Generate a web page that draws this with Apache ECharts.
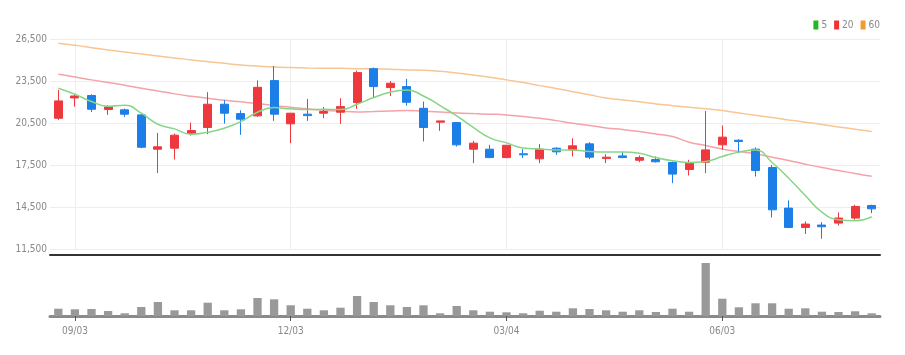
<!DOCTYPE html>
<html>
<head>
<meta charset="utf-8">
<style>
  html, body { margin: 0; padding: 0; background: #fff; }
  #chart-container { width: 905px; height: 355px; }
</style>
<script src="https://cdn.jsdelivr.net/npm/echarts@6/dist/echarts.min.js"></script>
</head>
<body>
<div id="chart-container"></div>
<script>
// weekly candles, labels MM/DD
var dates = ['08/27', '09/03', '09/10', '09/17', '09/24', '10/01', '10/08', '10/15', '10/22', '10/29',
    '11/05', '11/12', '11/19', '11/26', '12/03', '12/10', '12/17', '12/24', '12/31', '01/07',
    '01/14', '01/21', '01/28', '02/04', '02/11', '02/18', '02/25', '03/04', '03/11', '03/18',
    '03/25', '04/01', '04/08', '04/15', '04/22', '04/29', '05/06', '05/13', '05/20', '05/27',
    '06/03', '06/10', '06/17', '06/24', '07/01', '07/08', '07/15', '07/22', '07/29', '08/05'];
var labelDates = ['09/03', '12/03', '03/04', '06/03'];

var opens = [20840, 22290, 22460, 21460, 21440, 21080, 18630, 18700, 19750, 20180,
    21840, 21170, 21010, 23530, 20440, 21130, 21200, 21270, 21960, 24380,
    23030, 23100, 21550, 20560, 20530, 18630, 18630, 18030, 18300, 17940,
    18700, 18580, 19010, 17960, 18150, 17840, 17890, 17680, 17180, 17700,
    18940, 19270, 18630, 17320, 14420, 13040, 13210, 13350, 13710, 14610];
var closes = [22080, 22430, 21480, 21650, 21130, 18770, 18800, 19630, 19960, 21840,
    21200, 20770, 23050, 21130, 21200, 21030, 21320, 21670, 24100, 23100,
    23340, 21980, 20180, 20650, 18940, 19060, 18030, 18910, 18230, 18630,
    18440, 18870, 18060, 18060, 18030, 18030, 17730, 16850, 17630, 18580,
    19490, 19180, 17110, 14300, 13040, 13280, 13090, 13710, 14540, 14370];
var lows = [20720, 21670, 21290, 21080, 20940, 18700, 16920, 17890, 19600, 19700,
    20460, 19650, 20940, 20650, 19060, 20650, 20840, 20440, 21510, 22320,
    22430, 21740, 19180, 19940, 18820, 17630, 17990, 17990, 17990, 17630,
    18230, 18110, 17920, 17630, 17990, 17700, 17680, 16200, 16750, 16920,
    18580, 18340, 16680, 13750, 12990, 12570, 12230, 13180, 13590, 14060];
var highs = [22860, 22510, 22550, 21770, 21530, 21130, 19790, 19750, 20530, 22700,
    22130, 21410, 23550, 24570, 21200, 22220, 21650, 22270, 24240, 24460,
    23500, 23650, 22030, 20650, 20530, 19220, 18940, 18910, 18630, 18990,
    18770, 19410, 19130, 18270, 18460, 18180, 18110, 17750, 17870, 21360,
    20320, 19340, 18750, 17510, 14970, 13470, 13420, 14110, 14660, 14660];

var ma5 = [22980, 22550, 22030, 21700, 21770, 21200, 20410, 20080, 19700, 19840,
    20130, 20600, 21270, 21600, 21510, 21460, 21480, 21460, 21840, 22320,
    22700, 22860, 22430, 21740, 21010, 20180, 19440, 19080, 18720, 18650,
    18580, 18580, 18460, 18420, 18420, 18340, 18030, 17800, 17680, 17750,
    18110, 18420, 18580, 17680, 16560, 15320, 14130, 13590, 13520, 13800];
var ma20 = [23980, 23790, 23580, 23390, 23200, 22980, 22790, 22580, 22410, 22270,
    22120, 22010, 21890, 21740, 21630, 21510, 21410, 21340, 21290, 21320,
    21360, 21390, 21340, 21290, 21220, 21170, 21130, 21080, 20960, 20840,
    20670, 20480, 20320, 20150, 20030, 19890, 19720, 19530, 19130, 18890,
    18650, 18460, 18300, 18060, 17820, 17560, 17320, 17110, 16890, 16700];
var ma60 = [26190, 26050, 25880, 25720, 25570, 25430, 25290, 25150, 25000, 24880,
    24760, 24650, 24570, 24500, 24460, 24430, 24410, 24410, 24380, 24360,
    24340, 24290, 24270, 24190, 24070, 23930, 23770, 23580, 23390, 23170,
    22960, 22740, 22510, 22290, 22150, 22010, 21860, 21740, 21630, 21510,
    21390, 21220, 21050, 20890, 20720, 20560, 20390, 20220, 20060, 19890];

// volume, thousands of shares
var volumes = [73, 67, 70, 50, 27, 90, 140, 57, 57, 133,
    57, 67, 180, 167, 107, 73, 57, 83, 200, 140,
    107, 90, 107, 27, 100, 57, 43, 37, 27, 53,
    43, 77, 70, 57, 43, 57, 40, 73, 43, 530,
    173, 87, 127, 127, 73, 77, 43, 40, 47, 27];

var upColor = '#ee383e';
var downColor = '#1c7fe8';
var fontFamily = "'Liberation Sans Narrow', 'DejaVu Sans Condensed', 'Roboto', sans-serif";

var candles = [];
for (var i = 0; i < dates.length; i++) {
    candles.push([opens[i], closes[i], lows[i], highs[i]]);
}

function showAt(index, value) {
    return labelDates.indexOf(value) >= 0;
}

var dom = document.getElementById('chart-container');
var myChart = echarts.init(dom, null, { renderer: 'canvas' });

var option = {
    animation: false,
    textStyle: { fontFamily: fontFamily },
    legend: {
        right: 25,
        top: 20,
        padding: 0,
        icon: 'rect',
        itemWidth: 5,
        itemHeight: 9,
        itemGap: 7,
        textStyle: { color: '#888', fontSize: 10, fontFamily: fontFamily, padding: [0, 0, 0, -2] },
        data: [
            { name: '5', itemStyle: { color: '#22b822' } },
            { name: '20', itemStyle: { color: '#ee3333' } },
            { name: '60', itemStyle: { color: '#f39a30' } }
        ]
    },
    grid: [
        { left: 50, right: 25, top: 39, height: 210 },
        { left: 50, right: 25, top: 262, height: 54 }
    ],
    xAxis: [
        {
            type: 'category',
            gridIndex: 0,
            data: dates,
            boundaryGap: true,
            offset: 6,
            axisLine: { show: true, lineStyle: { color: '#333', width: 2 } },
            axisTick: { show: false },
            axisLabel: { show: false },
            splitLine: {
                show: true,
                interval: showAt,
                alignWithLabel: true,
                lineStyle: { color: '#eeeeee' }
            }
        },
        {
            type: 'category',
            gridIndex: 1,
            data: dates,
            boundaryGap: true,
            axisLine: { show: true, lineStyle: { color: '#8a8a8a', width: 3 } },
            axisTick: {
                show: true,
                interval: showAt,
                alignWithLabel: true,
                length: 5,
                lineStyle: { color: '#555' }
            },
            axisLabel: {
                interval: showAt,
                color: '#888',
                fontSize: 10,
                margin: 10,
                fontFamily: fontFamily
            },
            splitLine: { show: false }
        }
    ],
    yAxis: [
        {
            type: 'value',
            gridIndex: 0,
            min: 11500,
            max: 26500,
            interval: 3000,
            axisLine: { show: false },
            axisTick: { show: false },
            axisLabel: {
                color: '#888',
                fontSize: 10,
                margin: 3,
                fontFamily: fontFamily,
                formatter: function (v) { return v.toLocaleString('en-US'); }
            },
            splitLine: { lineStyle: { color: '#eeeeee' } }
        },
        {
            type: 'value',
            gridIndex: 1,
            min: 0,
            max: 540,
            show: false,
            splitLine: { show: false }
        }
    ],
    series: [
        {
            name: 'candle',
            type: 'candlestick',
            xAxisIndex: 0,
            yAxisIndex: 0,
            barWidth: '52%',
            data: candles,
            itemStyle: {
                color: upColor,
                color0: downColor,
                borderColor: upColor,
                borderColor0: downColor,
                borderWidth: 1
            }
        },
        {
            name: '5',
            type: 'line',
            data: ma5,
            smooth: true,
            showSymbol: false,
            symbol: 'none',
            lineStyle: { color: '#86d686', width: 1.5 },
            itemStyle: { color: '#22b822' },
            z: 3
        },
        {
            name: '20',
            type: 'line',
            data: ma20,
            smooth: true,
            symbol: 'none',
            lineStyle: { color: '#f4a3a8', width: 1.5 },
            itemStyle: { color: '#ee3333' },
            z: 1
        },
        {
            name: '60',
            type: 'line',
            data: ma60,
            smooth: true,
            symbol: 'none',
            lineStyle: { color: '#f8c595', width: 1.5 },
            itemStyle: { color: '#f39a30' },
            z: 1
        },
        {
            name: 'volume',
            type: 'bar',
            xAxisIndex: 1,
            yAxisIndex: 1,
            barWidth: '50%',
            data: volumes,
            itemStyle: { color: '#999999' }
        }
    ]
};

if (option && typeof option === 'object') {
    myChart.setOption(option);
}

window.addEventListener('resize', myChart.resize);
</script>
</body>
</html>
